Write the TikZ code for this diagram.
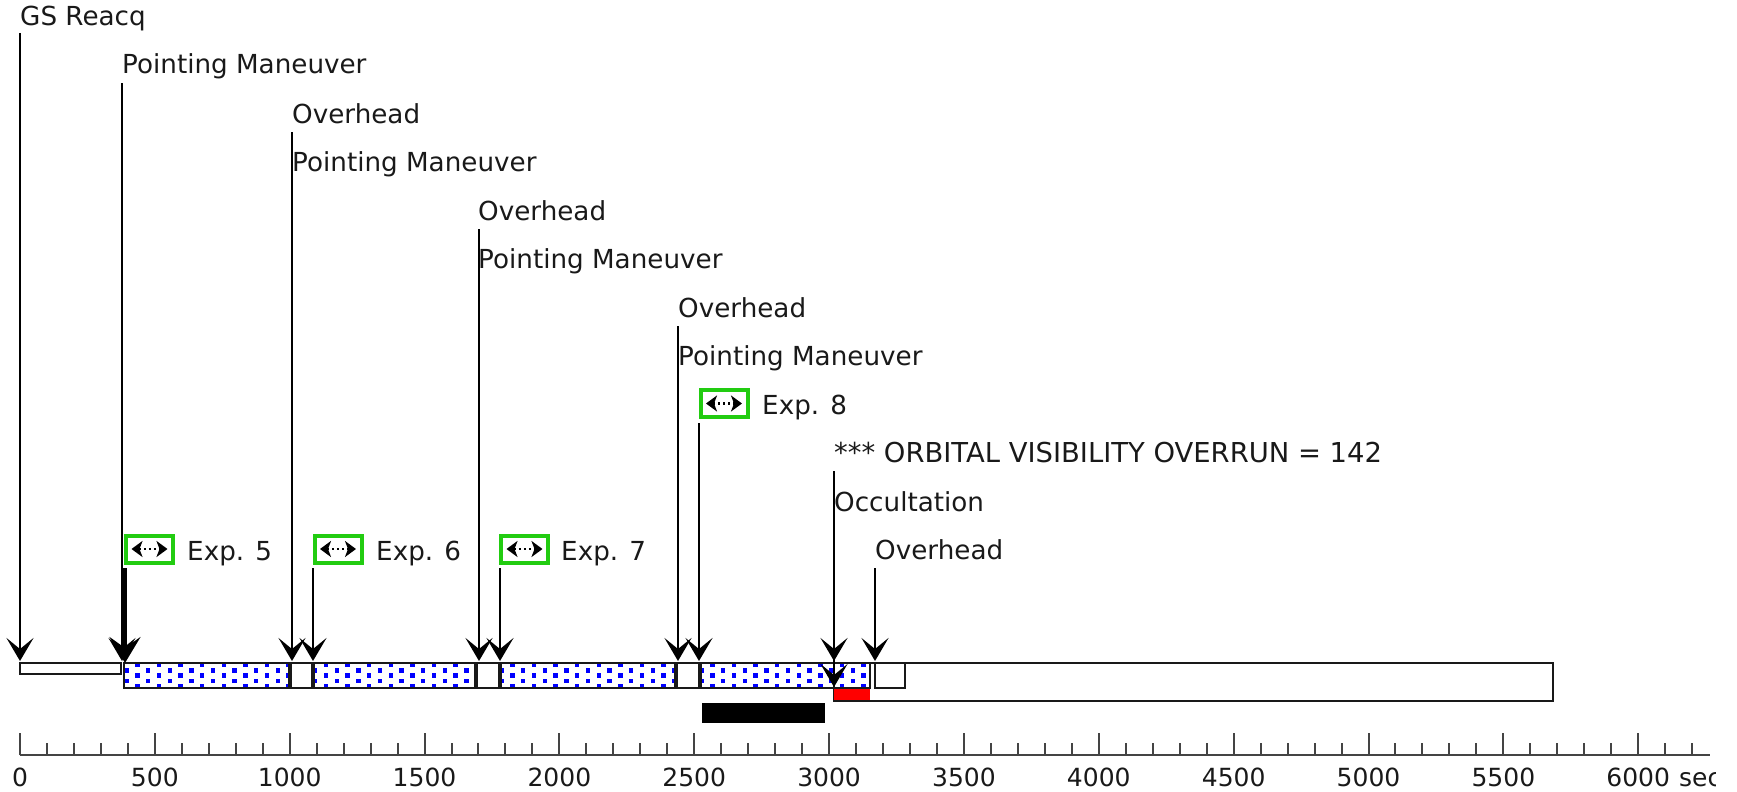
\documentclass[tikz,border=0pt]{standalone}
\usepackage{fontspec}
\setmainfont{DejaVu Sans}
\usetikzlibrary{arrows.meta}
\definecolor{expgreen}{HTML}{22CC11}
\definecolor{axisgrey}{HTML}{444444}
\tikzset{
  lab/.style={anchor=base west,inner sep=0pt,font=\fontsize{26.2}{30}\selectfont,text=black!90},
  ticklab/.style={anchor=base,inner sep=0pt,font=\fontsize{25}{30}\selectfont,text=black!90},
  ev/.style={line width=2.6pt,-{Stealth[length=23pt,width=27pt,inset=11pt]}},
  evthick/.style={line width=4.5pt,-{Stealth[length=26pt,width=31pt,inset=11pt]}},
  barbox/.style={draw=black!90,line width=2.2pt},
  expbox/.style={draw=expgreen,line width=4pt,fill=white,minimum width=47pt,minimum height=27pt,inner sep=0pt},
  icon/.style={line width=2.4pt,dash pattern=on 2pt off 3pt,{Stealth[length=11pt,width=16pt,inset=3pt]}-{Stealth[length=11pt,width=16pt,inset=3pt]}},
}
\begin{document}
\begin{tikzpicture}[x=1pt,y=-1pt]
\useasboundingbox (0,0) rectangle (1737,792);
% bars
\draw[barbox,fill=white] (834,663) rectangle (1553,701);
\draw[barbox,fill=white] (20,663) rectangle (121,674);
\fill[red] (834,689) rectangle (870,700);
% dot screen, one block per segment
\foreach \xl/\xr/\xa in {125/289/137.3, 315/475/326.0, 502/675/512.3, 702/869/712.3}{
  \begin{scope}
    \clip (\xl,664) rectangle (\xr,687);
    \foreach \k in {-1,0,...,9}{
      \foreach \dy in {665,675.5,686}{
        \fill[blue] ({\xa+21.6*\k-2.2},{\dy-2.2}) rectangle ++(4.4,4.4);
      }
      \foreach \dy in {670.3,680.8}{
        \fill[blue] ({\xa+21.6*\k+10.8-2.2},{\dy-2.2}) rectangle ++(4.4,4.4);
      }
    }
  \end{scope}
}
\draw[barbox] (124,663) rectangle (289,688);
\draw[barbox] (314,663) rectangle (475,688);
\draw[barbox] (501,663) rectangle (675,688);
\draw[barbox] (701,663) rectangle (870,688);
\draw[barbox] (291,663) rectangle (312,688);
\draw[barbox] (477,663) rectangle (499,688);
\draw[barbox] (677,663) rectangle (699,688);
\draw[barbox] (875,663) rectangle (905,688);
\fill[black] (702,703) rectangle (825,723);
% axis
\draw[axisgrey,line width=2pt] (20,755) -- (1710,755);
\foreach \s in {0,100,...,6200}{
  \draw[axisgrey,line width=2pt] ({20+0.2697*\s},755) -- ({20+0.2697*\s},743);
}
\foreach \s in {0,500,...,6000}{
  \draw[axisgrey,line width=2pt] ({20+0.2697*\s},755) -- ({20+0.2697*\s},733);
}
\foreach \s in {0,500,...,6000}{
  \node[ticklab] (t\s) at ({20+0.2697*\s},786) {\s};
}
\begin{scope}
  \clip (1670,760) rectangle (1715,792);
  \node[ticklab,anchor=base west] (tsec) at (1679,786) {sec};
\end{scope}
% labels
\node[lab] (l1) at (20,26) {GS Reacq};
\node[lab] (l2) at (122,74) {Pointing Maneuver};
\node[lab] (l3) at (292,123) {Overhead};
\node[lab] (l4) at (292,171) {Pointing Maneuver};
\node[lab] (l5) at (478,220) {Overhead};
\node[lab] (l6) at (478,268) {Pointing Maneuver};
\node[lab] (l7) at (678,317) {Overhead};
\node[lab] (l8) at (678,365) {Pointing Maneuver};
\node[lab,font=\fontsize{27.4}{30}\selectfont] (l9) at (834,462) {*** ORBITAL VISIBILITY OVERRUN = 142};
\node[lab] (l10) at (834,511) {Occultation};
\node[lab] (l11) at (875,559) {Overhead};
\node[lab] (x5) at (187,560) {Exp. 5};
\node[lab] (x6) at (376,560) {Exp. 6};
\node[lab] (x7) at (561,560) {Exp. 7};
\node[lab] (x8) at (762,414) {Exp. 8};
% exposure boxes
\foreach \n/\x/\y in {b5/149.5/549,b6/338/549,b7/524.5/549,b8/724/403.5}{
  \node[expbox] (\n) at (\x,\y) {};
  \draw[icon] ([xshift=-18pt]\n.center) -- ([xshift=18pt]\n.center);
}
% connector ends
\foreach \n/\x/\y in {
  s1/20/33, e1/20/661,
  s2/122/83, e2/122/661,
  s3/292/132, e3/292/661,
  s4/313/568, e4/313/661,
  s5/479/229, e5/479/661,
  s6/500/568, e6/500/661,
  s7/678/326, e7/678/661,
  s8/699/423, e8/699/661,
  s9/834/471, e9/834/661,
  s10/875/568, e10/875/661,
  s11/125/568, e11/125/663,
  s12/834/640, e12/834/687}{
  \coordinate (\n) at (\x,\y);
}
\foreach \i in {1,...,10}{
  \draw[ev] (s\i) -- (e\i);
}
\draw[evthick] (s11) -- (e11);
\draw[ev] (s12) -- (e12);
\end{tikzpicture}
\end{document}
